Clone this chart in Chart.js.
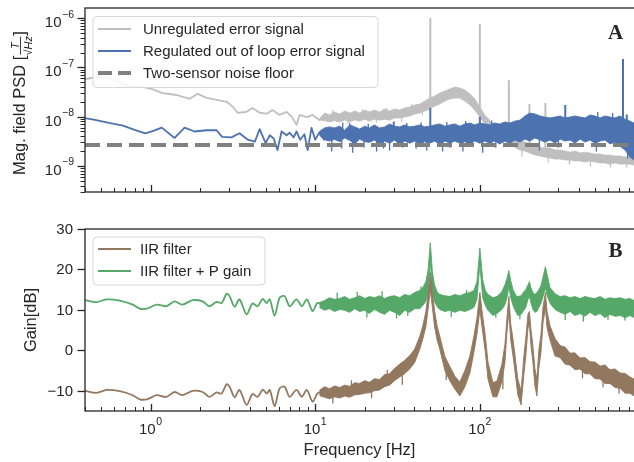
<!DOCTYPE html>
<html><head><meta charset="utf-8">
<script src="https://cdn.jsdelivr.net/npm/chart.js@4.4.1/dist/chart.umd.min.js"></script>
<style>
html,body{margin:0;padding:0;background:#fff;overflow:hidden;}
#top{position:absolute;left:0;top:0;}
#bot{position:absolute;left:0;top:200px;}
</style></head>
<body>
<canvas id="top" width="634" height="200" style="width:634px;height:200px"></canvas>
<canvas id="bot" width="634" height="262" style="width:634px;height:262px"></canvas>
<script>
// ---------------- axis ranges & tick labels ----------------
const freqRange = [0.4, 863];
const psdRange = [2.96e-10, 1.6e-6];
const gainRange = [-15, 30];
const xMajorTicks = [1, 10, 100];
const xMajorExps = ['0', '1', '2'];
const psdMajorTicks = [1e-9, 1e-8, 1e-7, 1e-6];
const psdMajorExps = ['\u22129', '\u22128', '\u22127', '\u22126'];
const gainTicks = [-10, 0, 10, 20, 30];
const gainTickLabels = ['\u221210', '0', '10', '20', '30'];

// ---------------- panel A: magnetic field PSD ----------------
// Unregulated error signal, single trace below ~10 Hz
const unregLowF = [0.40,0.49,0.56,0.65,0.75,0.89,1.03,1.18,1.44,1.73,1.93,2.19,2.52,2.9,3.15,3.38,3.83,4.16,4.6,5.07,5.5,6.08,6.7,7.2,7.7,8.05,8.9,9.65,10.6,11.4];
const unregLowV = [5.8e-8,6.4e-8,6.2e-8,4.9e-8,4.2e-8,4.0e-8,3.6e-8,3.0e-8,2.75e-8,2.3e-8,2.9e-8,2.4e-8,2.2e-8,2.0e-8,1.6e-8,1.2e-8,1.25e-8,1.5e-8,1.2e-8,1.15e-8,1.36e-8,1.08e-8,1.25e-8,1.0e-8,6.8e-9,1.08e-8,9.8e-9,1.08e-8,8.5e-9,1.0e-8];
// above ~10 Hz the traces are dense noise: upper / lower edges of the band
const psdBandF = [10.6,11.4,12.2,13.1,14.1,15.1,16.2,17.4,18.6,20.0,21.3,22.9,24.6,26.4,28.3,30.3,32.6,34.9,37.5,40.2,43.2,46.3,49.7,53.3,57.1,61.3,65.7,70.5,75.6,81.1,87.0,93.2,100,107,115,123,132,142,152,163,175,188,201,216,232,248,267,286,307,329,353,378,406,435,466,500,537,575,617,662,710,761,816,863];
const unregHi = [9.0e-9,1.18e-8,1.08e-8,1.24e-8,1.13e-8,1.30e-8,1.18e-8,1.30e-8,1.18e-8,1.36e-8,1.24e-8,1.36e-8,1.24e-8,1.43e-8,1.30e-8,1.43e-8,1.36e-8,1.49e-8,1.57e-8,1.72e-8,1.80e-8,2.07e-8,2.38e-8,2.62e-8,3.01e-8,3.31e-8,3.63e-8,3.98e-8,3.80e-8,3.47e-8,2.87e-8,2.28e-8,1.57e-8,1.08e-8,8.5e-9,6.4e-9,5.3e-9,4.6e-9,4.0e-9,3.5e-9,3.2e-9,3.05e-9,2.8e-9,2.5e-9,2.4e-9,2.3e-9,2.3e-9,2.1e-9,2.1e-9,2.0e-9,1.9e-9,2.0e-9,1.83e-9,1.9e-9,1.83e-9,1.74e-9,1.74e-9,1.66e-9,1.66e-9,1.59e-9,1.59e-9,1.52e-9,1.52e-9,1.45e-9];
const unregLo = [8.6e-9,8.3e-9,7.8e-9,8.3e-9,7.8e-9,8.6e-9,7.8e-9,8.6e-9,8.1e-9,8.9e-9,8.1e-9,8.9e-9,8.5e-9,8.9e-9,8.5e-9,9.4e-9,9.4e-9,9.8e-9,1.03e-8,1.13e-8,1.18e-8,1.30e-8,1.43e-8,1.64e-8,1.80e-8,2.07e-8,2.28e-8,2.38e-8,2.38e-8,2.07e-8,1.72e-8,1.36e-8,9.8e-9,7.1e-9,5.9e-9,4.6e-9,3.7e-9,3.2e-9,2.65e-9,2.4e-9,2.1e-9,2.0e-9,1.83e-9,1.66e-9,1.59e-9,1.52e-9,1.45e-9,1.38e-9,1.38e-9,1.32e-9,1.32e-9,1.26e-9,1.26e-9,1.20e-9,1.26e-9,1.20e-9,1.15e-9,1.15e-9,1.09e-9,1.15e-9,1.09e-9,1.09e-9,1.09e-9,1.04e-9];
const unregSpikeF = [50, 100, 150, 200, 250];
const unregSpikeBase = [2.2e-8, 1.2e-8, 3.3e-9, 2.6e-9, 2.2e-9];
const unregSpikeTop = [1.0e-6, 7.6e-7, 5.5e-8, 1.8e-8, 1.9e-8];
// narrow noise excursions out of the unregulated band
const unregExcF = [12.8,15.8,19.3,23.5,27.2,33.5,38.5,44.8,140,180,260,350,470,620,780];
const unregExcBase = [9.5e-9,9.5e-9,1.0e-8,1.0e-8,1.0e-8,1.1e-8,1.2e-8,1.5e-8,3.5e-9,2.4e-9,1.8e-9,1.6e-9,1.5e-9,1.3e-9,1.3e-9];
const unregExcV = [1.36e-8,7.4e-9,1.4e-8,7.6e-9,1.5e-8,8.0e-9,1.8e-8,1.1e-8,2.4e-9,1.6e-9,1.2e-9,1.1e-9,1.0e-9,9.5e-10,9.5e-10];

// Regulated out of loop error signal
const regLowF = [0.40,0.46,0.55,0.68,0.80,0.93,1.05,1.17,1.40,1.61,1.85,2.19,2.52,2.72,3.1,3.47,3.9,4.3,4.6,5.0,5.3,5.6,5.9,6.25,6.7,7.0,7.4,7.7,8.1,8.6,9.0,9.5,10.0,10.6,11.4];
const regLowV = [9.3e-9,8.6e-9,7.6e-9,6.6e-9,5.4e-9,4.6e-9,5.2e-9,6.0e-9,3.7e-9,6.0e-9,5.0e-9,5.3e-9,5.3e-9,3.9e-9,3.8e-9,4.6e-9,3.4e-9,3.1e-9,5.6e-9,2.9e-9,4.2e-9,3.6e-9,2.1e-9,5.0e-9,4.2e-9,4.7e-9,3.8e-9,5.0e-9,3.4e-9,4.4e-9,2.1e-9,5.9e-9,3.4e-9,4.8e-9,3.3e-9];
const regHi = [5.0e-9,5.9e-9,6.2e-9,5.9e-9,6.4e-9,5.3e-9,6.8e-9,6.2e-9,5.6e-9,6.4e-9,5.9e-9,6.8e-9,5.9e-9,6.2e-9,7.1e-9,6.4e-9,6.2e-9,6.8e-9,6.2e-9,6.4e-9,6.8e-9,6.2e-9,6.4e-9,6.8e-9,7.1e-9,6.4e-9,6.8e-9,7.1e-9,6.4e-9,7.1e-9,7.4e-9,6.8e-9,7.4e-9,7.1e-9,6.8e-9,7.4e-9,7.1e-9,7.8e-9,7.4e-9,8.1e-9,8.5e-9,1.03e-8,1.18e-8,1.13e-8,1.03e-8,9.8e-9,9.4e-9,9.8e-9,1.03e-8,9.4e-9,9.8e-9,1.03e-8,9.8e-9,9.4e-9,1.08e-8,1.03e-8,9.4e-9,1.03e-8,9.8e-9,9.4e-9,1.03e-8,8.9e-9,8.1e-9,7.4e-9];
const regLo = [4.2e-9,3.4e-9,3.2e-9,3.45e-9,3.1e-9,3.7e-9,3.3e-9,2.8e-9,3.5e-9,3.1e-9,3.0e-9,3.35e-9,2.8e-9,3.2e-9,2.9e-9,3.35e-9,2.7e-9,3.2e-9,2.9e-9,3.2e-9,2.8e-9,3.1e-9,2.9e-9,3.2e-9,2.7e-9,3.2e-9,2.9e-9,3.2e-9,2.9e-9,3.1e-9,2.8e-9,3.2e-9,2.9e-9,3.2e-9,2.9e-9,3.2e-9,2.8e-9,3.2e-9,2.9e-9,3.35e-9,3.05e-9,3.5e-9,3.2e-9,3.7e-9,3.35e-9,3.05e-9,3.35e-9,2.9e-9,3.5e-9,3.2e-9,3.35e-9,2.9e-9,3.5e-9,3.05e-9,3.35e-9,2.9e-9,3.2e-9,3.35e-9,2.8e-9,3.05e-9,2.5e-9,2.1e-9,1.52e-9,1.32e-9];
const regSpikeF = [30, 50, 100, 330, 740, 780];
const regSpikeBase = [5e-9, 6e-9, 6e-9, 8e-9, 8e-9, 8e-9];
const regSpikeTop = [8.0e-9, 1.5e-8, 1.0e-8, 1.72e-8, 1.48e-7, 1.1e-8];
// narrow noise excursions out of the regulated band
const regExcF = [12.6,14.5,14.7,16.2,16.9,19.8,21.0,23.6,26.0,28.3,34.0,36.0,41.0,44.0,47.6,59.4,63.0,66.0,78.9,82.0,104,118,125,230,300,510,520,640,790];
const regExcBase = [3.6e-9,3.6e-9,5.0e-9,5.0e-9,3.6e-9,3.6e-9,5.0e-9,3.6e-9,3.6e-9,3.6e-9,3.6e-9,5.0e-9,3.6e-9,5.0e-9,3.6e-9,3.6e-9,5.0e-9,3.6e-9,3.6e-9,5.0e-9,3.6e-9,5.0e-9,3.6e-9,4.0e-9,4.0e-9,4.0e-9,6.0e-9,6.0e-9,3.0e-9];
const regExcV = [2.0e-9,2.3e-9,7.6e-9,7.4e-9,1.9e-9,2.4e-9,7.2e-9,2.0e-9,2.3e-9,2.1e-9,2.4e-9,7.4e-9,2.3e-9,7.6e-9,2.1e-9,2.0e-9,7.8e-9,2.4e-9,2.0e-9,8.2e-9,1.9e-9,8.4e-9,2.4e-9,2.1e-9,2.4e-9,2.0e-9,1.24e-8,1.18e-8,1.45e-9];

// Two-sensor noise floor
const floorF = [0.4, 863];
const floorV = [2.65e-9, 2.65e-9];

// ---------------- panel B: gain ----------------
const gainLowF = [0.40,0.47,0.54,0.65,0.78,0.86,0.95,1.09,1.25,1.40,1.56,1.80,2.07,2.28,2.52,2.70,2.90,3.02,3.24,3.47,3.83,4.16,4.47,4.80,5.07,5.30,5.67,6.08,6.52,7.0,7.7,8.3,8.9,9.65,10.3,11.0];
const iirLowV = [-10.0,-10.5,-9.8,-10.1,-11.1,-12.1,-12.1,-11.1,-11.5,-10.3,-11.1,-10.0,-10.3,-11.5,-10.4,-10.7,-8.4,-9.0,-11.6,-9.8,-13.5,-10.8,-11.5,-9.7,-10.7,-9.8,-13.8,-9.4,-9.0,-11.5,-9.8,-11.5,-9.8,-12.7,-10.7,-10.2];
const iirPLowV = [12.4,11.9,12.6,12.3,11.3,10.3,10.3,11.3,10.9,12.1,11.3,12.4,12.1,10.9,12.0,11.7,14.0,13.4,10.8,12.6,8.9,11.6,10.9,12.7,11.7,12.6,8.6,13.0,13.4,10.9,12.6,10.9,12.6,9.7,11.7,11.2];
const gainBandF = [10.6,11.4,12.2,13.1,14.1,15.1,16.2,17.4,18.6,20.0,21.3,22.9,24.6,26.4,28.3,30.3,32.6,34.9,37.5,40.2,43.2,45.0,47.0,48.5,50,51.5,53,55,57.1,61.3,65.7,70.5,75.6,81.1,87.0,92,96,100,104,108,112,120,127,136,142,146,150,154,159,166,170,178,185,190,196,200,204,210,216,222,228,235,242,250,256,267,286,307,329,353,378,406,435,466,500,537,575,617,662,710,761,816,863];
const iirPHi = [11.8,12.3,13.0,12.6,12.8,13.3,12.6,13.0,13.5,12.8,13.3,13.0,13.5,12.8,13.3,13.5,13.0,13.8,13.5,14.3,14.8,15.5,17.0,19.9,26.6,19.4,16.2,14.5,13.8,13.5,13.3,13.8,13.5,14.0,14.3,14.8,17.0,25.3,17.5,14.8,13.8,13.0,13.3,14.5,16.2,17.7,19.7,17.2,15.0,13.5,13.3,13.5,14.5,15.0,16.2,17.0,15.5,14.3,13.8,14.3,15.0,16.0,18.2,20.7,18.7,15.5,14.0,13.3,13.5,13.0,13.3,12.8,13.3,13.0,12.8,13.3,12.6,13.0,12.8,13.0,12.6,12.8,12.3];
const iirPLo = [10.6,9.9,10.3,9.6,10.1,9.9,9.4,10.3,9.6,9.9,9.1,10.1,9.4,8.9,9.9,9.4,8.6,9.9,9.4,10.3,10.3,11.1,12.1,14.5,21.9,14.5,12.1,10.8,10.1,9.6,9.9,9.4,9.9,9.6,10.1,10.6,12.6,21.2,13.0,11.1,9.9,8.6,9.1,10.1,11.3,13.0,15.7,13.0,11.1,9.4,8.6,8.9,9.9,10.6,12.6,13.3,11.8,10.1,9.4,9.6,10.6,11.6,13.3,15.5,13.5,11.6,10.1,9.4,8.9,9.6,8.6,9.1,8.4,9.4,8.6,9.1,8.1,8.9,8.4,8.6,8.1,8.6,8.1];
const iirHi = [-9.9,-9.0,-9.5,-8.8,-9.2,-8.6,-8.9,-8.0,-8.2,-7.5,-7.9,-7.0,-7.2,-6.0,-5.8,-4.5,-3.4,-2.5,-1.3,0.3,3.5,6.0,9.6,14.0,19.2,14.5,10.0,6.0,3.5,-1.5,-4.0,-6.4,-7.8,-5.0,-1.4,3.5,8.0,14.3,8.5,3.5,-2.9,-8.0,-7.6,-3.5,1.5,8.0,13.3,6.5,2.7,-3.5,-7.1,-10.0,-1.5,3.0,9.0,9.6,5.5,1.0,-4.6,-7.1,0.0,4.0,10.8,14.3,9.5,6.0,2.9,1.2,0.8,-0.7,-0.6,-1.9,-1.8,-2.8,-2.9,-3.9,-3.6,-4.8,-4.6,-5.6,-5.7,-6.6,-7.1];
const iirLo = [-11.2,-11.6,-12.0,-11.5,-11.8,-11.3,-11.6,-11.0,-10.9,-10.6,-10.5,-10.0,-9.8,-9.0,-8.6,-7.5,-6.6,-5.8,-4.6,-3.0,0.3,2.8,5.8,10.2,15.0,10.5,6.0,2.5,0.3,-5.0,-7.5,-9.6,-11.3,-9.0,-5.6,-0.5,4.0,10.0,4.5,-0.5,-7.1,-11.5,-11.5,-7.8,-3.0,4.5,9.5,2.5,-1.4,-7.5,-11.0,-13.5,-6.0,-1.5,5.5,6.5,1.5,-3.0,-8.8,-11.3,-4.5,-0.5,6.9,10.5,5.5,2.5,-1.4,-1.8,-3.4,-3.7,-4.8,-4.6,-5.8,-5.8,-7.0,-7.1,-8.2,-8.2,-9.2,-9.4,-10.6,-10.6,-11.3];
// narrow noise excursions out of the bands
const iirPExcF = [13.6,18.0,20.6,25.5,31.2,36.5,44.0,67,83,125,175,330,425,600,760];
const iirPExcBase = [11.0,11.0,11.0,11.0,11.0,11.0,12.0,11.0,11.0,10.5,10.5,10.5,10.5,10.5,10.5];
const iirPExcV = [14.3,14.5,8.2,14.6,8.0,8.6,15.8,8.4,14.9,8.2,7.8,7.6,7.2,7.6,7.5];
const iirExcF = [12.8,16.6,22.0,27.4,33.8,62.5,138,300,420,560,700];
const iirExcBase = [-10.5,-10.0,-8.8,-7.5,-5.0,-3.0,-5.5,-1.0,-3.5,-5.5,-7.5];
const iirExcV = [-13.0,-7.4,-11.7,-4.8,-8.4,-7.2,-9.5,1.6,-6.8,-9.0,-10.6];

// ---------------- styling ----------------
const C_UNREG = '#bfbfbf', C_REG = '#4c72b0', C_FLOOR = '#808080';
const C_IIR = '#937860', C_IIRP = '#55a868';
const INK = '#262626';
const FONT = '"Liberation Sans", Arial, sans-serif';

function xy(fs, vs) { return fs.map((f, i) => ({x: f, y: vs[i]})); }
function spikes(fs, base, top) {
  const out = [];
  fs.forEach((f, i) => { out.push({x: f, y: base[i]}, {x: f, y: top[i]}, {x: f, y: null}); });
  return out;
}
function line(data, color, width, order, extra) {
  return Object.assign({data, borderColor: color, backgroundColor: color, borderWidth: width,
    showLine: true, pointRadius: 0, fill: false, order, spanGaps: false}, extra || {});
}

function drawPow10(ctx, x, y, exp, mode) {
  const big = '15px ' + FONT, small = '10.5px ' + FONT;
  ctx.font = big; const wb = ctx.measureText('10').width;
  ctx.font = small; const ws = ctx.measureText(exp).width;
  const total = wb + ws + 0.5;
  const x0 = mode === 'right' ? x - total : x - total / 2;
  const base = mode === 'right' ? y + 9 : y;
  ctx.fillStyle = INK; ctx.textAlign = 'left'; ctx.textBaseline = 'alphabetic';
  ctx.font = big; ctx.fillText('10', x0, base);
  ctx.font = small; ctx.fillText(exp, x0 + wb + 0.5, base - 9.5);
}
function rrect(ctx, x, y, w, h, r) {
  ctx.beginPath();
  ctx.moveTo(x + r, y); ctx.lineTo(x + w - r, y); ctx.quadraticCurveTo(x + w, y, x + w, y + r);
  ctx.lineTo(x + w, y + h - r); ctx.quadraticCurveTo(x + w, y + h, x + w - r, y + h);
  ctx.lineTo(x + r, y + h); ctx.quadraticCurveTo(x, y + h, x, y + h - r);
  ctx.lineTo(x, y + r); ctx.quadraticCurveTo(x, y, x + r, y); ctx.closePath();
}
function drawLegend(ctx, box, items, rows, sx0, sx1, tx) {
  ctx.save();
  rrect(ctx, box[0], box[1], box[2], box[3], 4);
  ctx.fillStyle = 'rgba(255,255,255,0.85)'; ctx.fill();
  ctx.strokeStyle = '#d6d6d6'; ctx.lineWidth = 1; ctx.stroke();
  items.forEach((it, i) => {
    ctx.beginPath(); ctx.setLineDash(it.dash || []); ctx.lineCap = 'butt';
    ctx.strokeStyle = it.color; ctx.lineWidth = it.width;
    ctx.moveTo(sx0, rows[i]); ctx.lineTo(sx1, rows[i]); ctx.stroke(); ctx.setLineDash([]);
    ctx.fillStyle = INK; ctx.font = '15px ' + FONT; ctx.textAlign = 'left'; ctx.textBaseline = 'middle';
    ctx.fillText(it.label, tx, rows[i] + 1);
  });
  ctx.restore();
}
function drawFrame(chart) {
  const {ctx, chartArea: a} = chart;
  ctx.save(); ctx.strokeStyle = INK; ctx.lineWidth = 1.3;
  ctx.strokeRect(a.left, a.top, a.right - a.left + 2, a.bottom - a.top);
  ctx.restore();
}
function drawXTicks(chart, withLabels) {
  const {ctx, chartArea: a} = chart; const xs = chart.scales.x;
  ctx.save(); ctx.strokeStyle = INK;
  for (let e = -1; e <= 2; e++) for (let m = 1; m <= 9; m++) {
    const v = m * Math.pow(10, e);
    if (v < freqRange[0] || v > freqRange[1]) continue;
    const px = Math.round(xs.getPixelForValue(v)) + 0.5;
    const len = m === 1 ? 7 : 4;
    ctx.lineWidth = m === 1 ? 1.3 : 1;
    ctx.beginPath(); ctx.moveTo(px, a.bottom); ctx.lineTo(px, a.bottom - len); ctx.stroke();
  }
  if (withLabels) xMajorTicks.forEach((v, i) => drawPow10(ctx, xs.getPixelForValue(v), a.bottom + 23, xMajorExps[i], 'center'));
  ctx.restore();
}

// ---------------- panel A plugin ----------------
const decoTop = {
  id: 'decoTop',
  afterDatasetsDraw(chart) {
    const {ctx, chartArea: a} = chart; const ys = chart.scales.y;
    drawFrame(chart);
    drawXTicks(chart, false);
    ctx.save(); ctx.strokeStyle = INK;
    for (let e = -10; e <= -6; e++) for (let m = 1; m <= 9; m++) {
      const v = m * Math.pow(10, e);
      if (v < psdRange[0] || v > psdRange[1]) continue;
      const py = Math.round(ys.getPixelForValue(v)) + 0.5;
      const len = m === 1 ? 7.5 : 4.5;
      ctx.lineWidth = m === 1 ? 1.3 : 1;
      ctx.beginPath(); ctx.moveTo(a.left - len, py); ctx.lineTo(a.left, py); ctx.stroke();
    }
    psdMajorTicks.forEach((v, i) => drawPow10(ctx, 74, ys.getPixelForValue(v), psdMajorExps[i], 'right'));
    // y-axis title with fraction
    const main = 'Mag. field PSD [';
    ctx.font = '16.5px ' + FONT; const wm = ctx.measureText(main).width;
    const wc = ctx.measureText(']').width;
    const wf = 20;
    const W = wm + wf + wc;
    ctx.translate(25, (a.top + a.bottom) / 2 + 3); ctx.rotate(-Math.PI / 2);
    ctx.fillStyle = INK; ctx.textBaseline = 'alphabetic'; ctx.textAlign = 'left';
    const x0 = -W / 2;
    ctx.font = '16.5px ' + FONT; ctx.fillText(main, x0, 0);
    const fx = x0 + wm + wf / 2;
    ctx.font = 'italic 11px ' + FONT; ctx.textAlign = 'center';
    ctx.fillText('T', fx, -6.5);
    ctx.fillText('\u221AHz', fx, 6.5);
    ctx.strokeStyle = INK; ctx.lineWidth = 0.9;
    ctx.beginPath(); ctx.moveTo(x0 + wm + 1, -4.5); ctx.lineTo(x0 + wm + wf - 1, -4.5); ctx.stroke();
    ctx.font = '16.5px ' + FONT; ctx.textAlign = 'left'; ctx.fillText(']', x0 + wm + wf, 0);
    ctx.restore();
    drawLegend(ctx, [93, 16.5, 285, 71], [
      {label: 'Unregulated error signal', color: C_UNREG, width: 2},
      {label: 'Regulated out of loop error signal', color: C_REG, width: 2},
      {label: 'Two-sensor noise floor', color: C_FLOOR, width: 4, dash: [14, 6]}
    ], [29, 51, 73], 98, 131, 143);
    ctx.save(); ctx.fillStyle = INK; ctx.font = 'bold 21px "Liberation Serif", "Times New Roman", serif';
    ctx.textAlign = 'center'; ctx.textBaseline = 'alphabetic'; ctx.fillText('A', 615.5, 38.5); ctx.restore();
  }
};

// ---------------- panel B plugin ----------------
const decoBot = {
  id: 'decoBot',
  afterDatasetsDraw(chart) {
    const {ctx, chartArea: a} = chart; const ys = chart.scales.y;
    drawFrame(chart);
    drawXTicks(chart, true);
    ctx.save(); ctx.strokeStyle = INK; ctx.lineWidth = 1.3; ctx.fillStyle = INK;
    ctx.font = '15px ' + FONT; ctx.textAlign = 'right'; ctx.textBaseline = 'middle';
    gainTicks.forEach((v, i) => {
      const py = Math.round(ys.getPixelForValue(v)) + 0.5;
      ctx.beginPath(); ctx.moveTo(a.left - 7.5, py); ctx.lineTo(a.left, py); ctx.stroke();
      ctx.fillText(gainTickLabels[i], 73, py + 0.5);
    });
    ctx.font = '16.5px ' + FONT; ctx.textAlign = 'center'; ctx.textBaseline = 'middle';
    ctx.fillText('Frequency [Hz]', (a.left + a.right) / 2, 250);
    ctx.translate(31.5, (a.top + a.bottom) / 2); ctx.rotate(-Math.PI / 2);
    ctx.fillText('Gain[dB]', 0, 0);
    ctx.restore();
    drawLegend(ctx, [93, 37, 172, 48], [
      {label: 'IIR filter', color: C_IIR, width: 2},
      {label: 'IIR filter + P gain', color: C_IIRP, width: 2}
    ], [49, 71], 98, 131, 140);
    ctx.save(); ctx.fillStyle = INK; ctx.font = 'bold 21px "Liberation Serif", "Times New Roman", serif';
    ctx.textAlign = 'center'; ctx.textBaseline = 'alphabetic'; ctx.fillText('B', 615.5, 57); ctx.restore();
  }
};

const common = {
  responsive: false, animation: false, events: [],
  plugins: {legend: {display: false}, tooltip: {enabled: false}},
  elements: {point: {radius: 0}, line: {borderJoinStyle: 'round', tension: 0}}
};

new Chart(document.getElementById('top'), {
  type: 'scatter',
  data: {datasets: [
    line(xy(floorF, floorV), C_FLOOR, 4, 0, {borderDash: [15, 7]}),
    line(xy(regLowF, regLowV), C_REG, 1.8, 1),
    line(xy(psdBandF, regHi), C_REG, 0.9, 1),
    line(xy(psdBandF, regLo), C_REG, 0.9, 1, {fill: '-1'}),
    line(spikes(regSpikeF, regSpikeBase, regSpikeTop), C_REG, 2, 1),
    line(spikes(regExcF, regExcBase, regExcV), C_REG, 1.3, 1),
    line(xy(unregLowF, unregLowV), C_UNREG, 1.8, 2),
    line(xy(psdBandF, unregHi), C_UNREG, 0.8, 2),
    line(xy(psdBandF, unregLo), C_UNREG, 0.8, 2, {fill: '-1'}),
    line(spikes(unregSpikeF, unregSpikeBase, unregSpikeTop), C_UNREG, 2, 2),
    line(spikes(unregExcF, unregExcBase, unregExcV), C_UNREG, 1.2, 2)
  ]},
  options: Object.assign({}, common, {
    layout: {padding: {left: 85, top: 8, right: 0, bottom: 8}},
    scales: {
      x: {type: 'logarithmic', min: freqRange[0], max: freqRange[1], display: false},
      y: {type: 'logarithmic', min: psdRange[0], max: psdRange[1], display: false}
    }
  }),
  plugins: [decoTop]
});

new Chart(document.getElementById('bot'), {
  type: 'scatter',
  data: {datasets: [
    line(xy(gainLowF, iirLowV), C_IIR, 1.8, 0, {tension: 0.3}),
    line(xy(gainBandF, iirHi), C_IIR, 0.9, 0),
    line(xy(gainBandF, iirLo), C_IIR, 0.9, 0, {fill: '-1'}),
    line(spikes(iirExcF, iirExcBase, iirExcV), C_IIR, 1.3, 0),
    line(xy(gainLowF, iirPLowV), C_IIRP, 1.8, 1, {tension: 0.3}),
    line(xy(gainBandF, iirPHi), C_IIRP, 0.9, 1),
    line(xy(gainBandF, iirPLo), C_IIRP, 0.9, 1, {fill: '-1'}),
    line(spikes(iirPExcF, iirPExcBase, iirPExcV), C_IIRP, 1.3, 1)
  ]},
  options: Object.assign({}, common, {
    layout: {padding: {left: 85, top: 29, right: 0, bottom: 51}},
    scales: {
      x: {type: 'logarithmic', min: freqRange[0], max: freqRange[1], display: false},
      y: {type: 'linear', min: gainRange[0], max: gainRange[1], display: false}
    }
  }),
  plugins: [decoBot]
});
</script>
</body></html>
